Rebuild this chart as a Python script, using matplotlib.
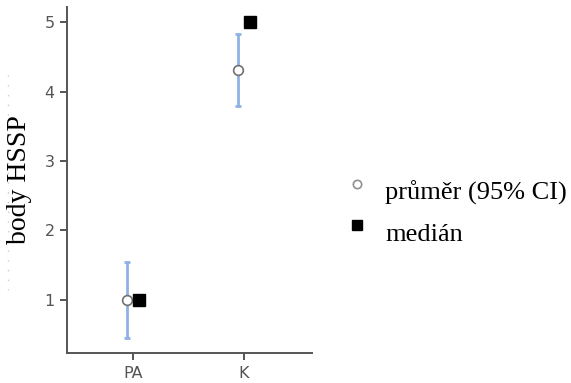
import matplotlib
matplotlib.use("Agg")
import matplotlib.pyplot as plt
from matplotlib.lines import Line2D

groups = ["PA", "K"]
means = [1.0, 4.31]
ci_low = [0.45, 3.79]
ci_high = [1.55, 4.83]
medians = [1.0, 5.0]
yticks = [1, 2, 3, 4, 5]

W, H = 571, 383
fig = plt.figure(figsize=(W / 100, H / 100), dpi=100)
ax = fig.add_axes([67 / W, 1 - 353 / H, (312 - 67) / W, (353 - 7) / H])

xs = list(range(len(groups)))
off = 0.052
xm = [x - off for x in xs]
xd = [x + off for x in xs]

err = [[m - lo for m, lo in zip(means, ci_low)], [hi - m for m, hi in zip(means, ci_high)]]
ax.errorbar(xm, means, yerr=err, fmt="none", ecolor="#8fb1e3", elinewidth=2,
            capsize=2.5, capthick=2, zorder=2)
ax.plot(xm, means, "o", ms=7, mfc="white", mec="#707070", mew=1.2, zorder=3)
ax.plot(xd, medians, "s", ms=8, mfc="black", mec="black", zorder=3)

ax.set_xlim(-0.595, 1.613)
ax.set_ylim(0.235, 5.22)
ax.set_xticks(xs)
ax.set_xticklabels(groups)
ax.set_yticks(yticks)
ax.set_yticklabels([str(t) for t in yticks])

for s in ["top", "right"]:
    ax.spines[s].set_visible(False)
for s in ["left", "bottom"]:
    ax.spines[s].set_color("#555555")
    ax.spines[s].set_linewidth(1.4)
ax.tick_params(axis="both", colors="#555555", labelcolor="#555555", labelsize=11.5,
               length=5, width=1.4, direction="out", pad=4)
for lab in ax.get_xticklabels() + ax.get_yticklabels():
    lab.set_family("DejaVu Sans")

fig.text(20 / W, 1 - 180 / H, "body HSSP", rotation=90, ha="center", va="center",
         family="Liberation Serif", fontsize=20)
fig.add_artist(Line2D([8 / W, 8 / W], [1 - 75 / H, 1 - 290 / H], transform=fig.transFigure,
                      color="#cccccc", lw=1, ls=(0, (1, 6))))

# legend drawn beside the axes
fig.add_artist(Line2D([357 / W], [1 - 184 / H], transform=fig.transFigure, marker="o",
                      ms=6, mfc="white", mec="#909090", mew=1.2, ls="none"))
fig.add_artist(Line2D([357 / W], [1 - 225 / H], transform=fig.transFigure, marker="s",
                      ms=7.5, mfc="black", mec="black", ls="none"))
fig.text(385 / W, 1 - 193 / H, "průměr (95% CI)", ha="left", va="center",
         family="Liberation Serif", fontsize=19)
fig.text(385 / W, 1 - 235 / H, "medián", ha="left", va="center",
         family="Liberation Serif", fontsize=19)

fig.savefig("out.png", dpi=100)
